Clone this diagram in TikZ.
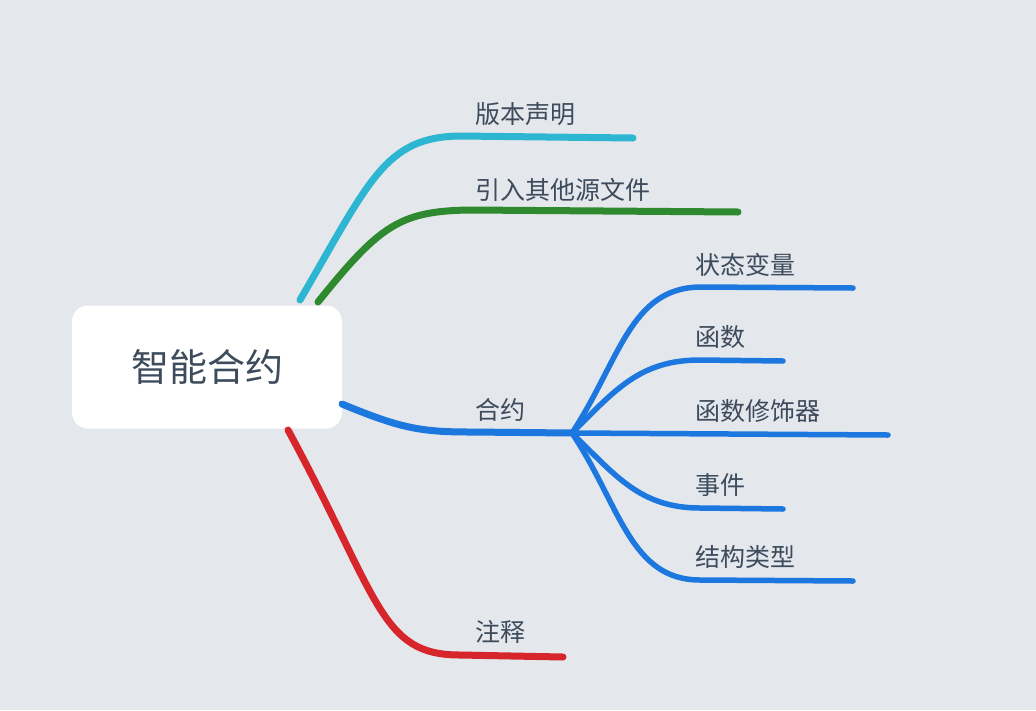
\documentclass[tikz,border=0pt]{standalone}
\usepackage{fontspec}
\newfontfamily\cjk{Noto Sans CJK SC}
\definecolor{bg}{HTML}{E4E7EC}
\definecolor{txt}{HTML}{3D4B5C}
\definecolor{cyanb}{HTML}{2CB6D2}
\definecolor{greenb}{HTML}{2F8A2F}
\definecolor{blueb}{HTML}{1C78DF}
\definecolor{redb}{HTML}{D6262B}
\tikzset{
  branch/.style={line width=7pt, line cap=round},
  twig/.style={line width=5.5pt, line cap=round, blueb},
  leaf/.style={anchor=south west, inner sep=0pt, text=txt, font=\cjk\fontsize{25}{25}\selectfont},
}
\begin{document}
\begin{tikzpicture}[x=1pt,y=-1pt]
\fill[bg] (0,0) rectangle (1036,710);
\useasboundingbox (0,0) rectangle (1036,710);
%Root
\node (root) [fill=white, rounded corners=16pt, minimum width=270pt, minimum height=123pt, text=txt, font=\cjk\fontsize{38}{38}\selectfont] at (207,367) {智能合约};
%Main branches
\coordinate (cA) at (300,300);
\coordinate (cB) at (318,302);
\coordinate (cC) at (342,404);
\coordinate (cD) at (288,430);
\coordinate (hub) at (572,433);
\draw[branch, cyanb] (cA) .. controls (370,180) and (385,137) .. (460,136) -- (633,138);
\draw[branch, greenb] (cB) .. controls (380,225) and (400,211) .. (470,210) -- (738,212);
\draw[branch, blueb] (cC) .. controls (400,428) and (420,432) .. (470,432) -- (hub);
\draw[branch, redb] (cD) .. controls (380,600) and (380,655) .. (460,655) -- (563,657);
\node[leaf] (ver) at (475,126) {版本声明};
\node[leaf] (imp) at (475,202) {引入其他源文件};
\node[leaf] (con) at (475,422) {合约};
\node[leaf] (com) at (475,644) {注释};
%Sub branches
\draw[twig] (hub) .. controls (620,360) and (630,288) .. (700,287) -- (853,288);
\draw[twig] (hub) .. controls (615,390) and (640,360) .. (700,360) -- (783,361);
\draw[twig] (hub) -- (888,435);
\draw[twig] (hub) .. controls (615,475) and (640,508) .. (700,508) -- (783,509);
\draw[twig] (hub) .. controls (620,505) and (630,580) .. (700,580) -- (853,581);
\node[leaf] (sv) at (695,277) {状态变量};
\node[leaf] (fn) at (695,349) {函数};
\node[leaf] (fm) at (695,423) {函数修饰器};
\node[leaf] (ev) at (695,497) {事件};
\node[leaf] (st) at (695,569) {结构类型};
\end{tikzpicture}
\end{document}
